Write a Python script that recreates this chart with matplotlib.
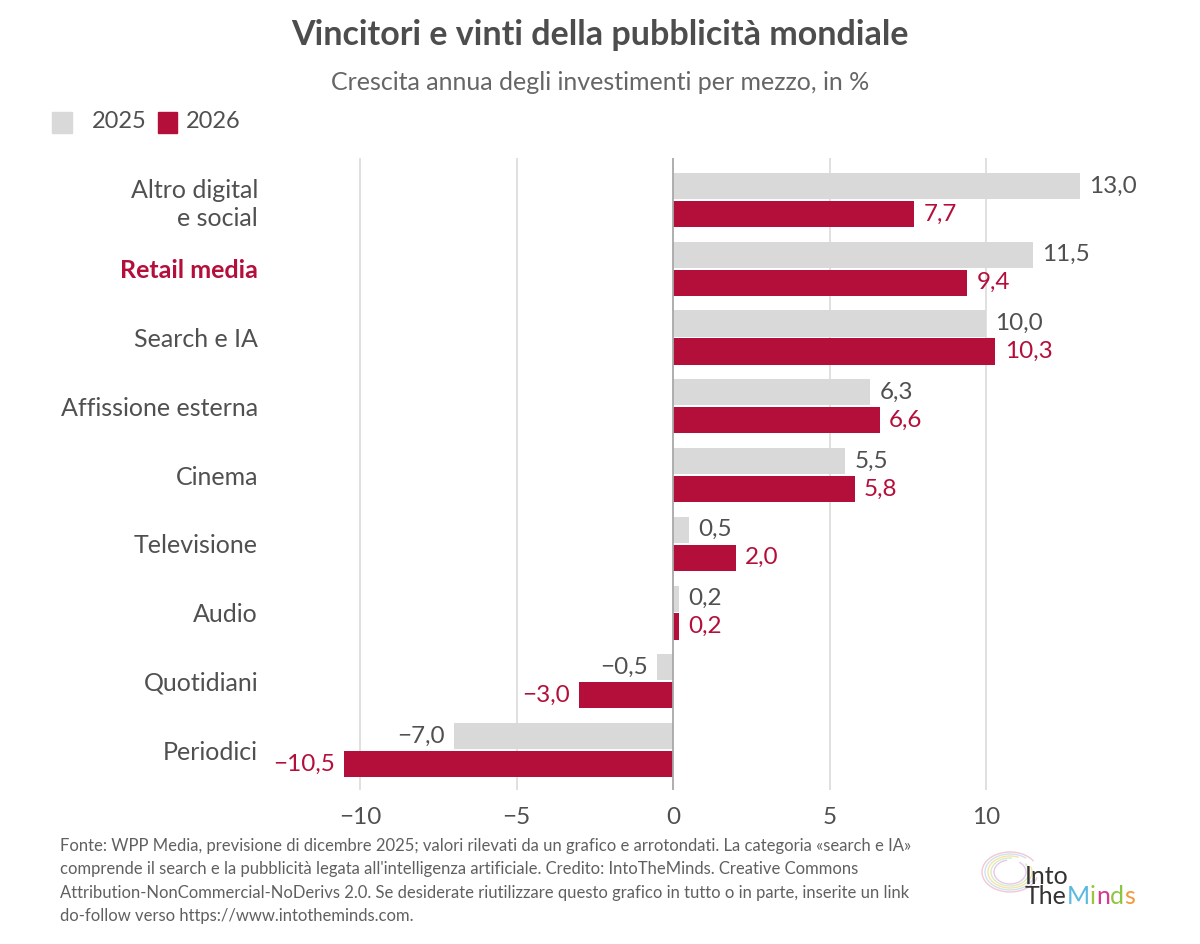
import numpy as np
import matplotlib.pyplot as plt

plt.rcParams['font.family'] = ['Lato', 'DejaVu Sans']

# data
categories = ["Altro digital\ne social", "Retail media", "Search e IA", "Affissione esterna",
              "Cinema", "Televisione", "Audio", "Quotidiani", "Periodici"]
v2025 = [13.0, 11.5, 10.0, 6.3, 5.5, 0.5, 0.2, -0.5, -7.0]
v2026 = [7.7, 9.4, 10.3, 6.6, 5.8, 2.0, 0.2, -3.0, -10.5]
xticks = [-10, -5, 0, 5, 10]

grey = "#d9d9d9"
red = "#b40f3a"
txt = "#505050"

fig = plt.figure(figsize=(12, 9.44), dpi=100)
ax = fig.add_axes([265/1200, 1-790/944, (1130-265)/1200, (790-158)/944])

y = np.arange(len(categories))
off = 0.203
h = 0.38
ax.barh(y - off, v2025, height=h, color=grey, zorder=3)
ax.barh(y + off, v2026, height=h, color=red, zorder=3)

def fmt(v):
    s = "{:.1f}".format(abs(v)).replace(".", ",")
    return ("\u2212" + s) if v < 0 else s

pad = 0.3
for yi, a, b in zip(y, v2025, v2026):
    for val, yy, col in ((a, yi - off, txt), (b, yi + off, red)):
        ax.text(val + (pad if val >= 0 else -pad), yy, fmt(val),
                ha="left" if val >= 0 else "right", va="center",
                fontsize=17.5, color=col, zorder=4)

ax.set_xlim((265-673)/31.3, (1130-673)/31.3)
ax.set_ylim(8.58, -0.61)
ax.set_xticks(xticks)
ax.set_xticklabels([("\u2212" + str(-t)) if t < 0 else str(t) for t in xticks])
ax.set_yticks(y)
ax.set_yticklabels(categories, fontsize=18, color=txt, linespacing=1.25)
lbl = ax.get_yticklabels()[1]
lbl.set_color(red)
lbl.set_fontweight("bold")
ax.tick_params(axis="x", length=0, labelsize=17.5, labelcolor=txt, pad=12)
ax.tick_params(axis="y", length=0, pad=5)
for t in xticks:
    ax.axvline(t, color="#a8a8a8" if t == 0 else "#dddddd", lw=1.3, zorder=1 if t else 5)
for s in ax.spines.values():
    s.set_visible(False)

fig.text(0.5, 1-35/944, "Vincitori e vinti della pubblicità mondiale", ha="center", va="center",
         fontsize=24.5, fontweight="bold", color="#4d4d4d")
fig.text(0.5, 1-82/944, "Crescita annua degli investimenti per mezzo, in %", ha="center", va="center",
         fontsize=18, color="#666666")

# legend
fig.patches.append(plt.Rectangle((52/1200, 1-133/944), 20/1200, 21/944, color=grey, transform=fig.transFigure))
fig.text(92/1200, 1-122/944, "2025", va="center", fontsize=17, color=txt)
fig.patches.append(plt.Rectangle((158/1200, 1-133/944), 19/1200, 21/944, color=red, transform=fig.transFigure))
fig.text(186/1200, 1-122/944, "2026", va="center", fontsize=17, color=txt)

note = ("Fonte: WPP Media, previsione di dicembre 2025; valori rilevati da un grafico e arrotondati. La categoria «search e IA»\n"
        "comprende il search e la pubblicità legata all'intelligenza artificiale. Credito: IntoTheMinds. Creative Commons\n"
        "Attribution-NonCommercial-NoDerivs 2.0. Se desiderate riutilizzare questo grafico in tutto o in parte, inserite un link\n"
        "do-follow verso https://www.intotheminds.com.")
fig.text(60/1200, 1-838/944, note, ha="left", va="top", fontsize=12, color="#606060", linespacing=1.57)

# logo
lx = 1025/1200
fig.text(lx, 1-876/944, "Into", fontsize=18, color="#333333", va="center", ha="left")
parts = [("The", "#333333"), ("M", "#5bb8e0"), ("i", "#9bc53d"), ("n", "#d6398f"), ("d", "#8cc63f"), ("s", "#f29a3a")]
r = fig.canvas.get_renderer()
xx = lx
for s, c in parts:
    t = fig.text(xx, 1-897/944, s, fontsize=18, color=c, va="center", ha="left")
    xx += t.get_window_extent(r).width / 1200
th = np.linspace(0.6, 2*np.pi - 0.3, 80)
for k, c in enumerate(["#f5c6d6", "#c9e4f2", "#f7e3a6", "#d9ecc4", "#e6c9ec"]):
    fig.lines.append(plt.Line2D((1010 + (28 - k*3)*np.cos(th + k*0.3))/1200,
                                (1-872/944) + ((20 - k*2)*np.sin(th + k*0.3))/944,
                                transform=fig.transFigure, color=c, lw=1.0, zorder=0))

fig.savefig("out.png", dpi=100)
